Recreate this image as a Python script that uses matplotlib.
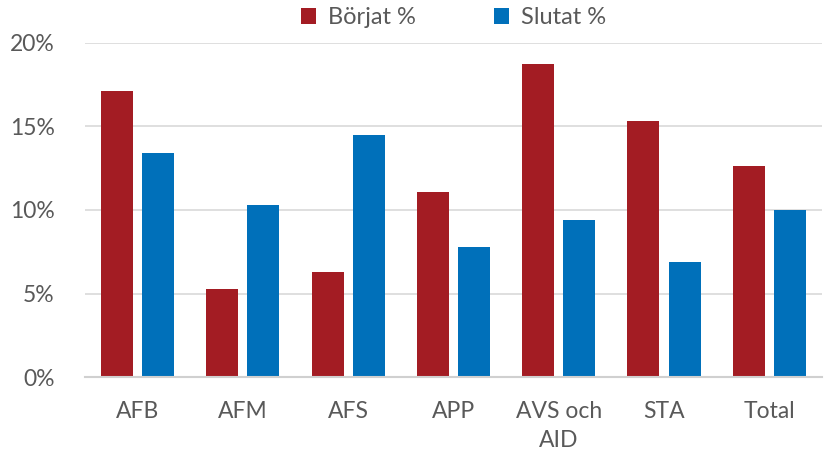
import matplotlib
matplotlib.use("Agg")
import matplotlib.pyplot as plt
import numpy as np
from matplotlib.ticker import FuncFormatter

categories = ["AFB", "AFM", "AFS", "APP", "AVS och\nAID", "STA", "Total"]
borjat = [17.1, 5.3, 6.3, 11.1, 18.7, 15.3, 12.6]
slutat = [13.4, 10.3, 14.5, 7.8, 9.4, 6.9, 10.0]
yticks = [0, 5, 10, 15, 20]

plt.rcParams['font.family'] = ['Lato', 'DejaVu Sans']

fig = plt.figure(figsize=(8.26, 4.57), dpi=100)
ax = fig.add_axes([0.103, 0.174, 0.892, 0.733])

x = np.arange(len(categories))
w = 0.304
off = 0.195
red = "#A31C23"
blue = "#0070BA"
ax.bar(x - off, borjat, w, color=red, label="Börjat %", zorder=3)
ax.bar(x + off, slutat, w, color=blue, label="Slutat %", zorder=3)

ax.set_xlim(-0.5, len(categories) - 0.5)
ax.set_ylim(0, 20)
ax.set_yticks(yticks)
ax.yaxis.set_major_formatter(FuncFormatter(lambda v, p: f"{v:.0f}%"))
ax.set_xticks(x)
ax.set_xticklabels(categories, linespacing=1.45)
ax.grid(axis='y', color="#d9d9d9", linewidth=1.2, zorder=0)
ax.tick_params(axis='both', length=0, labelsize=16.5, colors="#595959")
ax.tick_params(axis='x', pad=17)
ax.tick_params(axis='y', pad=22)
for s in ["top", "right", "left"]:
    ax.spines[s].set_visible(False)
ax.spines["bottom"].set_color("#d0d0d0")
ax.spines["bottom"].set_linewidth(1.5)
ax.spines["bottom"].set_zorder(4)

leg = ax.legend(loc="lower center", bbox_to_anchor=(0.5, 1.0), ncol=2, frameon=False,
                fontsize=17, handlelength=0.65, handleheight=0.65, handletextpad=0.5,
                columnspacing=3.3, borderaxespad=0.2)
for t in leg.get_texts():
    t.set_color("#595959")

fig.savefig("out.png", dpi=100)
